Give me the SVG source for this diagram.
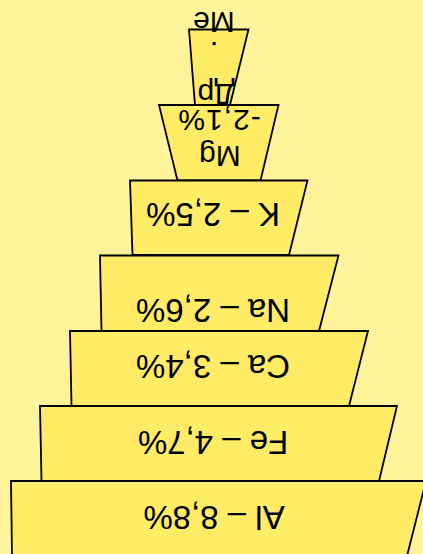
<svg xmlns="http://www.w3.org/2000/svg" width="423" height="554" viewBox="0 0 423 554">
<style>
.t{fill:#ffec66;stroke:#000;stroke-width:1.8;stroke-linejoin:miter}
.l{font-family:"Liberation Sans",Arial,sans-serif;font-size:33px;fill:#000;text-anchor:middle}
.s{font-size:30px}
</style>
<rect width="423" height="554" fill="#fff39c"/>
<g id="other">
<polygon class="t" points="189,29.5 248.5,29.5 230,105 195,105"/>
<text class="l s" x="214" y="33" transform="rotate(180 214 22.5)">Me</text>
<text class="l s" x="214" y="62" transform="rotate(180 214 52)">.</text>
<text class="l s" x="216" y="104.5" transform="rotate(180 216 94)">Др</text>
</g>
<g id="mg">
<polygon class="t" points="159,105 278.5,105 260.5,180.5 177.5,180.5"/>
<text class="l s" x="219" y="130.5" transform="rotate(180 219 120)" letter-spacing="1">-2,1%</text>
<text class="l s" x="220" y="167" transform="rotate(180 220 156.5)">Mg</text>
</g>
<g id="k">
<polygon class="t" points="130,180.5 307.5,180.5 289,255 132.5,255"/>
<text class="l" x="213" y="226.8" transform="rotate(180 213 215)">K – 2,5%</text>
</g>
<g id="na">
<polygon class="t" points="100,255.5 338.5,255.5 319,331 101.5,331"/>
<text class="l" x="213" y="322.3" transform="rotate(180 213 310.5)">Na – 2,6%</text>
</g>
<g id="ca">
<polygon class="t" points="70,331 368,331 349,406 71.5,406"/>
<text class="l" x="213" y="378.8" transform="rotate(180 213 367)">Ca – 3,4%</text>
</g>
<g id="fe">
<polygon class="t" points="40,406 397,406 379,481 41.5,481"/>
<text class="l" x="213" y="454.3" transform="rotate(180 213 442.5)">Fe – 4,7%</text>
</g>
<g id="al">
<polygon class="t" points="11,481 426,481 407,556 12,556"/>
<text class="l" x="214" y="529.3" transform="rotate(180 214 517.5)">Al – 8,8%</text>
</g>
</svg>
